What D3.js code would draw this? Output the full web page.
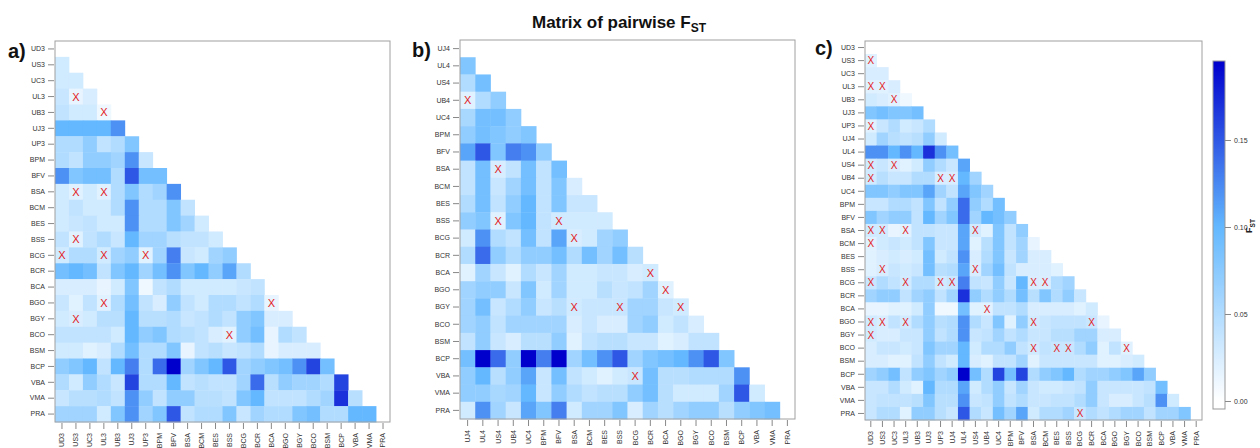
<!DOCTYPE html>
<html>
<head>
<meta charset="utf-8">
<script src="https://cdn.jsdelivr.net/npm/d3@7"></script>
<style>
body { margin: 0; background: #fff; }
svg { font-family: "Liberation Sans", Arial, sans-serif; }
</style>
</head>
<body>
<div id="chart"></div>
<script>
// ---- data (lower triangles, row i holds pairs with columns 0..i-1) ----
const labelsA = ["UD3","US3","UC3","UL3","UB3","UJ3","UP3","BPM","BFV","BSA","BCM","BES","BSS","BCG","BCR","BCA","BGO","BGY","BCO","BSM","BCP","VBA","VMA","PRA"];
const fstA = [
  [],
  [0.03],
  [0.03,0.03],
  [0.035,0.015,0.025],
  [0.04,0.03,0.03,0.01],
  [0.10,0.10,0.10,0.10,0.12],
  [0.05,0.05,0.07,0.04,0.05,0.08],
  [0.05,0.04,0.07,0.07,0.06,0.12,0.035],
  [0.12,0.08,0.09,0.09,0.05,0.15,0.09,0.09],
  [0.03,0.02,0.03,0.02,0.05,0.08,0.05,0.06,0.12],
  [0.03,0.04,0.03,0.03,0.05,0.12,0.05,0.05,0.08,0.04],
  [0.03,0.035,0.04,0.03,0.03,0.12,0.05,0.05,0.08,0.06,0.03],
  [0.04,0.02,0.04,0.05,0.035,0.10,0.06,0.06,0.045,0.04,0.04,0.03],
  [0.03,0.05,0.05,0.03,0.06,0.07,0.02,0.06,0.13,0.035,0.03,0.06,0.07],
  [0.09,0.10,0.09,0.04,0.08,0.10,0.06,0.09,0.12,0.08,0.10,0.07,0.11,0.05],
  [0.025,0.025,0.025,0.015,0.03,0.08,0.01,0.04,0.05,0.03,0.03,0.03,0.03,0.035,0.04],
  [0.035,0.02,0.04,0.02,0.05,0.09,0.04,0.025,0.07,0.04,0.03,0.05,0.05,0.04,0.05,0.015],
  [0.03,0.025,0.03,0.045,0.045,0.10,0.045,0.045,0.05,0.035,0.04,0.05,0.04,0.07,0.08,0.025,0.025],
  [0.04,0.04,0.04,0.04,0.03,0.10,0.07,0.08,0.05,0.045,0.04,0.025,0.02,0.07,0.09,0.015,0.05,0.04],
  [0.03,0.03,0.02,0.025,0.05,0.09,0.05,0.05,0.08,0.015,0.04,0.045,0.035,0.04,0.05,0.015,0.025,0.025,0.025],
  [0.07,0.08,0.10,0.04,0.10,0.13,0.05,0.14,0.195,0.06,0.08,0.10,0.15,0.06,0.07,0.08,0.09,0.12,0.16,0.09],
  [0.05,0.03,0.07,0.05,0.035,0.16,0.05,0.05,0.10,0.04,0.045,0.04,0.04,0.06,0.14,0.045,0.07,0.06,0.06,0.05,0.16],
  [0.035,0.045,0.045,0.05,0.04,0.12,0.07,0.04,0.07,0.07,0.045,0.045,0.04,0.08,0.10,0.04,0.04,0.04,0.05,0.06,0.17,0.045],
  [0.06,0.06,0.06,0.03,0.08,0.12,0.06,0.08,0.15,0.04,0.05,0.05,0.08,0.035,0.06,0.05,0.05,0.08,0.09,0.05,0.05,0.10,0.10]
];
const crossA = [[3,1],[4,3],[9,1],[9,3],[12,1],[13,0],[13,3],[13,6],[16,3],[16,15],[17,1],[18,12]];

const labelsB = ["UJ4","UL4","US4","UB4","UC4","BPM","BFV","BSA","BCM","BES","BSS","BCG","BCR","BCA","BGO","BGY","BCO","BSM","BCP","VBA","VMA","PRA"];
const fstB = [
  [],
  [0.08],
  [0.05,0.09],
  [0.02,0.05,0.07],
  [0.055,0.09,0.09,0.07],
  [0.07,0.09,0.08,0.07,0.08],
  [0.11,0.15,0.08,0.13,0.12,0.07],
  [0.04,0.09,0.025,0.04,0.09,0.04,0.09],
  [0.04,0.09,0.035,0.06,0.09,0.04,0.08,0.025],
  [0.05,0.09,0.04,0.07,0.10,0.04,0.08,0.035,0.035],
  [0.07,0.08,0.02,0.08,0.10,0.04,0.03,0.03,0.03,0.03],
  [0.03,0.12,0.05,0.04,0.09,0.04,0.11,0.025,0.03,0.06,0.07],
  [0.05,0.14,0.07,0.05,0.07,0.07,0.09,0.05,0.09,0.06,0.09,0.045],
  [0.02,0.06,0.035,0.02,0.05,0.035,0.06,0.03,0.03,0.035,0.035,0.025,0.03],
  [0.06,0.07,0.07,0.035,0.08,0.03,0.06,0.03,0.03,0.045,0.035,0.04,0.06,0.02],
  [0.06,0.09,0.035,0.05,0.07,0.035,0.045,0.03,0.035,0.035,0.035,0.06,0.06,0.035,0.03],
  [0.06,0.07,0.04,0.06,0.06,0.06,0.06,0.025,0.035,0.025,0.025,0.06,0.07,0.03,0.04,0.025],
  [0.04,0.07,0.035,0.025,0.045,0.045,0.07,0.02,0.04,0.045,0.045,0.035,0.035,0.02,0.025,0.04,0.04],
  [0.09,0.195,0.14,0.07,0.195,0.13,0.195,0.06,0.09,0.12,0.15,0.06,0.08,0.09,0.10,0.12,0.15,0.08],
  [0.07,0.10,0.045,0.07,0.11,0.035,0.09,0.04,0.03,0.02,0.03,0.035,0.09,0.045,0.045,0.05,0.05,0.05,0.12],
  [0.07,0.07,0.055,0.06,0.10,0.035,0.07,0.05,0.04,0.045,0.045,0.07,0.09,0.045,0.03,0.03,0.03,0.06,0.15,0.03],
  [0.03,0.12,0.06,0.035,0.11,0.08,0.13,0.03,0.06,0.06,0.08,0.025,0.06,0.045,0.06,0.07,0.07,0.045,0.07,0.08,0.09]
];
const crossB = [[3,0],[7,2],[10,2],[10,6],[11,7],[13,12],[14,13],[15,7],[15,10],[15,14],[19,11]];

const labelsC = ["UD3","US3","UC3","UL3","UB3","UJ3","UP3","UJ4","UL4","US4","UB4","UC4","BPM","BFV","BSA","BCM","BES","BSS","BCG","BCR","BCA","BGO","BGY","BCO","BSM","BCP","VBA","VMA","PRA"];
const fstC = [
  [],
  [0.02],
  [0.025,0.025],
  [0.02,0.02,0.025],
  [0.03,0.025,0.02,0.01],
  [0.08,0.09,0.08,0.08,0.09],
  [0.02,0.035,0.05,0.03,0.035,0.05],
  [0.03,0.06,0.045,0.04,0.045,0.07,0.03],
  [0.12,0.12,0.10,0.12,0.10,0.17,0.12,0.09],
  [0.03,0.035,0.025,0.02,0.03,0.07,0.05,0.035,0.11],
  [0.03,0.045,0.035,0.035,0.05,0.05,0.025,0.025,0.10,0.06],
  [0.08,0.08,0.07,0.08,0.08,0.11,0.06,0.04,0.11,0.08,0.06],
  [0.035,0.035,0.05,0.05,0.04,0.08,0.04,0.07,0.14,0.07,0.05,0.09],
  [0.08,0.06,0.07,0.07,0.04,0.10,0.06,0.08,0.14,0.06,0.10,0.09,0.07],
  [0.03,0.03,0.015,0.02,0.04,0.04,0.035,0.035,0.11,0.03,0.02,0.08,0.04,0.07],
  [0.02,0.03,0.035,0.03,0.04,0.08,0.035,0.035,0.11,0.02,0.045,0.08,0.04,0.06,0.015],
  [0.02,0.025,0.03,0.025,0.03,0.09,0.03,0.04,0.12,0.025,0.05,0.08,0.035,0.06,0.025,0.025],
  [0.02,0.025,0.035,0.03,0.035,0.09,0.045,0.05,0.11,0.025,0.06,0.09,0.04,0.025,0.025,0.025,0.02],
  [0.035,0.05,0.04,0.03,0.05,0.05,0.03,0.035,0.13,0.04,0.035,0.07,0.035,0.10,0.025,0.025,0.05,0.06],
  [0.06,0.07,0.07,0.04,0.06,0.07,0.04,0.06,0.17,0.07,0.05,0.07,0.05,0.09,0.045,0.08,0.05,0.07,0.035],
  [0.015,0.015,0.02,0.02,0.03,0.07,0.01,0.01,0.09,0.02,0.02,0.04,0.04,0.05,0.025,0.025,0.025,0.025,0.02,0.03],
  [0.03,0.025,0.04,0.03,0.05,0.07,0.045,0.05,0.12,0.05,0.035,0.08,0.02,0.07,0.03,0.035,0.04,0.04,0.04,0.035,0.015],
  [0.03,0.025,0.025,0.035,0.035,0.07,0.04,0.05,0.12,0.035,0.04,0.06,0.04,0.05,0.035,0.035,0.045,0.045,0.06,0.06,0.025,0.025],
  [0.025,0.035,0.035,0.03,0.035,0.08,0.06,0.06,0.10,0.03,0.05,0.05,0.07,0.04,0.03,0.04,0.035,0.035,0.05,0.07,0.02,0.04,0.02],
  [0.025,0.025,0.02,0.02,0.04,0.07,0.04,0.03,0.10,0.025,0.02,0.04,0.04,0.06,0.02,0.035,0.035,0.035,0.035,0.035,0.02,0.02,0.025,0.03],
  [0.06,0.07,0.09,0.04,0.07,0.08,0.06,0.07,0.195,0.09,0.05,0.16,0.09,0.16,0.05,0.07,0.08,0.10,0.05,0.06,0.06,0.07,0.08,0.11,0.07],
  [0.035,0.035,0.05,0.03,0.02,0.10,0.05,0.05,0.11,0.03,0.05,0.07,0.035,0.06,0.035,0.03,0.03,0.035,0.04,0.07,0.035,0.035,0.035,0.035,0.04,0.09],
  [0.035,0.04,0.04,0.04,0.045,0.08,0.045,0.045,0.12,0.035,0.04,0.07,0.04,0.05,0.035,0.035,0.04,0.04,0.05,0.07,0.035,0.025,0.025,0.035,0.045,0.12,0.03],
  [0.035,0.05,0.05,0.02,0.07,0.07,0.045,0.035,0.15,0.05,0.035,0.09,0.06,0.11,0.03,0.05,0.05,0.06,0.035,0.05,0.04,0.05,0.06,0.06,0.04,0.06,0.06,0.08]
];
const crossC = [[1,0],[3,0],[3,1],[4,2],[6,0],[9,0],[9,2],[10,0],[10,6],[10,7],[14,0],[14,1],[14,3],[14,9],[15,0],[17,1],[17,9],[18,0],[18,3],[18,6],[18,7],[18,14],[18,15],[20,10],[21,0],[21,1],[21,3],[21,14],[21,19],[22,0],[23,14],[23,16],[23,17],[23,22],[28,18]];

const legendTicks = [0, 0.05, 0.10, 0.15];

// ---- drawing ----
const svg = d3.select("#chart").append("svg").attr("width", 1260).attr("height", 448);

var color = d3.scaleLinear()
  .domain([0, 0.1, 0.195])
  .range(["#ffffff", "#63b8ff", "#0000cd"])
  .clamp(true);

function drawPanel(p) {
  const x = d3.scaleBand().domain(p.labels).range([p.x0, p.x1]);
  const y = d3.scaleBand().domain(p.labels).range([p.y0, p.y1]);
  const g = svg.append("g");

  let cells = [];
  p.values.forEach((row, i) => {
    row.forEach((v, j) => cells.push({ r: p.labels[i], c: p.labels[j], v: v }));
  });

  g.selectAll("rect.cell")
    .data(cells)
    .join("rect")
    .attr("class", "cell")
    .attr("x", d => x(d.c))
    .attr("y", d => y(d.r))
    .attr("width", x.bandwidth() + 0.4)
    .attr("height", y.bandwidth() + 0.4)
    .attr("fill", d => color(d.v));

  // non significant pairs
  g.selectAll("text.cross")
    .data(p.crosses)
    .join("text")
    .attr("class", "cross")
    .attr("x", d => x(p.labels[d[1]]) + x.bandwidth() / 2)
    .attr("y", d => y(p.labels[d[0]]) + y.bandwidth() / 2)
    .attr("dy", "0.36em")
    .attr("text-anchor", "middle")
    .attr("fill", "#e3211c")
    .attr("font-size", p.xSize)
    .text("X");

  // frame
  g.append("rect")
    .attr("x", p.x0).attr("y", p.y0)
    .attr("width", p.x1 - p.x0).attr("height", p.y1 - p.y0)
    .attr("fill", "none")
    .attr("stroke", "#a0a0a0")
    .attr("stroke-width", 1);

  // y axis
  g.append("g")
    .attr("transform", `translate(${p.x0 - 1},0)`)
    .call(d3.axisLeft(y).tickSize(6).tickPadding(3).tickSizeOuter(0))
    .call(a => a.select(".domain").remove())
    .call(a => a.selectAll(".tick line").attr("stroke", "#888"))
    .call(a => a.selectAll(".tick text").attr("fill", "#333").attr("font-size", 7)
      .attr("font-family", "Liberation Sans, Arial, sans-serif"));

  // x axis
  g.append("g")
    .attr("transform", `translate(0,${p.y1 + 1})`)
    .call(d3.axisBottom(x).tickSize(6).tickSizeOuter(0))
    .call(a => a.select(".domain").remove())
    .call(a => a.selectAll(".tick line").attr("stroke", "#888"))
    .call(a => a.selectAll(".tick text")
      .attr("fill", "#333").attr("font-size", 7)
      .attr("font-family", "Liberation Sans, Arial, sans-serif")
      .attr("transform", "rotate(-90)")
      .attr("text-anchor", "end")
      .attr("x", -10).attr("y", 0).attr("dy", "0.35em"));

  svg.append("text")
    .attr("x", p.lx).attr("y", p.ly)
    .attr("font-size", 20)
    .attr("font-weight", "bold")
    .attr("fill", "#111")
    .text(p.letter);
}

drawPanel({ labels: labelsA, values: fstA, crosses: crossA, x0: 55, x1: 390, y0: 41, y1: 422, letter: "a)", lx: 8, ly: 58, xSize: 11 });
drawPanel({ labels: labelsB, values: fstB, crosses: crossB, x0: 460, x1: 795, y0: 40, y1: 419, letter: "b)", lx: 412, ly: 57, xSize: 11 });
drawPanel({ labels: labelsC, values: fstC, crosses: crossC, x0: 865, x1: 1202, y0: 41, y1: 420, letter: "c)", lx: 815, ly: 55, xSize: 10 });

// title
const title = svg.append("text")
  .attr("x", 619).attr("y", 28)
  .attr("text-anchor", "middle")
  .attr("font-size", 17)
  .attr("font-weight", "bold")
  .attr("fill", "#111");
title.append("tspan").text("Matrix of pairwise F");
title.append("tspan").attr("font-size", 12).attr("dy", 4).text("ST");

// colour key
const cbY = d3.scaleLinear().domain([-0.0046, 0.1954]).range([409, 61]);
const grad = svg.append("defs").append("linearGradient")
  .attr("id", "fstGrad")
  .attr("x1", 0).attr("y1", 1).attr("x2", 0).attr("y2", 0);
color.domain().forEach(v => {
  grad.append("stop")
    .attr("offset", (409 - cbY(v)) / (409 - 61))
    .attr("stop-color", color(v));
});
grad.insert("stop", ":first-child").attr("offset", 0).attr("stop-color", "#ffffff");

svg.append("rect")
  .attr("x", 1213).attr("y", 61)
  .attr("width", 12).attr("height", 348)
  .attr("fill", "url(#fstGrad)")
  .attr("stroke", "#999");

svg.append("g")
  .attr("transform", "translate(1225,0)")
  .call(d3.axisRight(cbY).tickValues(legendTicks).tickFormat(d3.format(".2f")).tickSize(6).tickPadding(3))
  .call(a => a.select(".domain").remove())
  .call(a => a.selectAll(".tick line").attr("stroke", "#888"))
  .call(a => a.selectAll(".tick text").attr("fill", "#333").attr("font-size", 7)
    .attr("font-family", "Liberation Sans, Arial, sans-serif"));

const keyLabel = svg.append("text")
  .attr("transform", "translate(1252,226) rotate(-90)")
  .attr("text-anchor", "middle")
  .attr("font-size", 9)
  .attr("font-weight", "bold")
  .attr("fill", "#222");
keyLabel.append("tspan").text("F");
keyLabel.append("tspan").attr("font-size", 6.5).attr("dy", 2.5).text("ST");
</script>
</body>
</html>
